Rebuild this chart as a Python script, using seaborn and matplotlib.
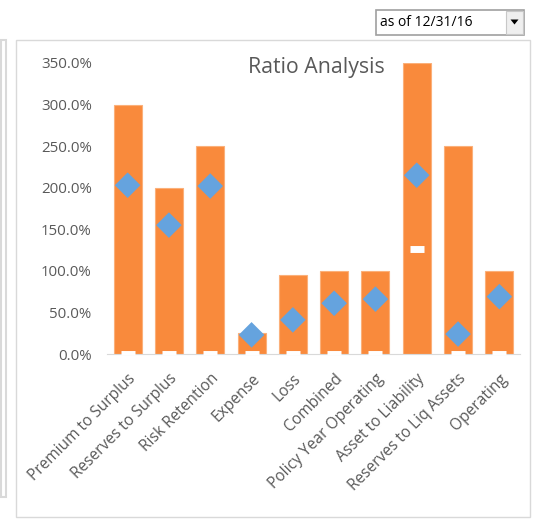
import numpy as np
import pandas as pd
import matplotlib
matplotlib.use('Agg')
import matplotlib.pyplot as plt
from matplotlib.patches import Rectangle, Polygon
from matplotlib.ticker import FuncFormatter, FixedLocator
import seaborn as sns

# Chart data
ratios = ['Premium to Surplus', 'Reserves to Surplus', 'Risk Retention', 'Expense',
          'Loss', 'Combined', 'Policy Year Operating', 'Asset to Liability',
          'Reserves to Liq Assets', 'Operating']
limit = [300, 200, 250, 25, 95, 100, 100, 350, 250, 100]
actual = [203, 155, 202, 23, 41, 61, 66, 215, 24, 69]
low = [0, 0, 0, 0, 0, 0, 0, 126, 0, 0]

df = pd.DataFrame({'ratio': ratios, 'limit': limit, 'actual': actual, 'low': low})

sns.set_style('white')
plt.rcParams['font.family'] = ['Open Sans', 'DejaVu Sans']

W, H = 534, 519
fig = plt.figure(figsize=(W / 100, H / 100), dpi=100)


def fx(x):
    return x / W


def fy(y):
    return 1 - y / H


# panel frames (behind the axes)
fig.patches.append(Rectangle((fx(1), fy(497)), fx(5), fy(40) - fy(497), transform=fig.transFigure,
                             facecolor='white', edgecolor='#D9D9D9', lw=1.5, zorder=-5))
fig.patches.append(Rectangle((fx(16), fy(517)), fx(530) - fx(16), fy(40) - fy(517),
                             transform=fig.transFigure, facecolor='white', edgecolor='#D9D9D9',
                             lw=1, zorder=-5))

ax = fig.add_axes([fx(107), fy(354), fx(520) - fx(107), fy(63) - fy(354)])
ax.set_facecolor('none')

sns.barplot(data=df, x='ratio', y='limit', color='#F98A3C', width=0.68, saturation=1,
            edgecolor='#FBB07A', linewidth=0.8, ax=ax)
sns.scatterplot(data=df, x='ratio', y='actual', marker='D', s=170, color='#65A3DE',
                edgecolor='none', ax=ax, zorder=5)
sns.scatterplot(data=df, x='ratio', y='low', marker='_', s=90, color='white',
                linewidth=5, ax=ax, zorder=4)

ax.set_ylim(0, 350)
ax.set_xlim(-0.5, 9.5)
ax.set_yticks(np.arange(0, 351, 50))
ax.yaxis.set_major_formatter(FuncFormatter(lambda v, p: f'{v:.1f}%'))
ax.set_xlabel('')
ax.set_ylabel('')
for s in ['top', 'right', 'left']:
    ax.spines[s].set_visible(False)
ax.spines['bottom'].set_color('#D9D9D9')
ax.tick_params(axis='y', length=0, labelsize=10.8, labelcolor='#595959', pad=11)
ax.tick_params(axis='x', which='major', length=0, labelsize=11.2, labelcolor='#595959', pad=12)
ax.xaxis.set_minor_locator(FixedLocator(np.arange(-0.5, 10, 1)))
ax.tick_params(axis='x', which='minor', length=5, color='#D9D9D9', width=1)
plt.setp(ax.get_xticklabels(), rotation=45, ha='right', rotation_mode='anchor')

fig.text(fx(316), fy(67), 'Ratio Analysis', ha='center', va='center', fontsize=15.3, color='#595959')

# dropdown box
fig.patches.append(Rectangle((fx(376), fy(35)), fx(524) - fx(376), fy(10) - fy(35),
                             transform=fig.transFigure, facecolor='white', edgecolor='#A0A0A0', lw=1.2))
fig.patches.append(Rectangle((fx(506), fy(34)), fx(523) - fx(506), fy(11) - fy(34),
                             transform=fig.transFigure, facecolor='#EFEFEF', edgecolor='#C8C8C8', lw=0.8))
fig.patches.append(Polygon([(fx(510.5), fy(19.5)), (fx(518.5), fy(19.5)), (fx(514.5), fy(24.5))],
                           closed=True, transform=fig.transFigure, facecolor='black', edgecolor='none'))
fig.text(fx(380), fy(23), 'as of 12/31/16', ha='left', va='center', fontsize=10, color='black')

fig.savefig('out.png', dpi=100)
